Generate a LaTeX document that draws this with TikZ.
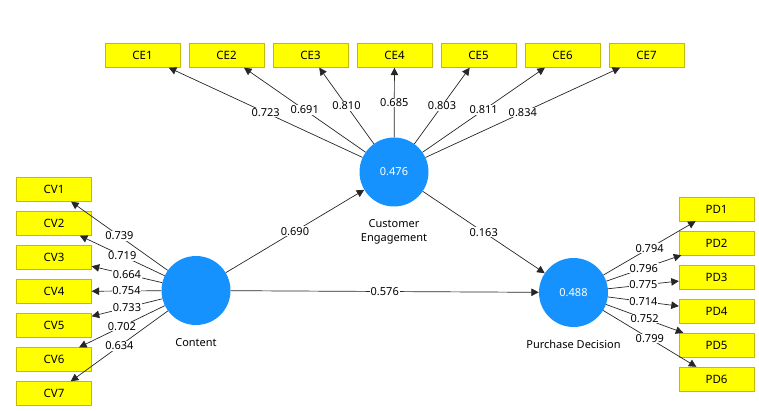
\documentclass[tikz,border=0pt]{standalone}
\usepackage{fontspec}
\setmainfont{Noto Sans}
\usetikzlibrary{arrows.meta}

\definecolor{lvblue}{RGB}{22,146,255}
\definecolor{indfill}{RGB}{255,255,0}
\definecolor{indedge}{RGB}{196,186,0}

\begin{document}
\begin{tikzpicture}[x=1pt,y=-1pt,
    ind/.style={draw=indedge,fill=indfill,minimum width=75pt,minimum height=24pt,inner sep=0pt,font=\fontsize{11.5}{13}\selectfont},
    lv/.style={circle,fill=lvblue,minimum size=69pt,inner sep=0pt,text=white,font=\fontsize{11}{13}\selectfont},
    lvname/.style={align=center,font=\fontsize{11}{14}\selectfont},
    load/.style={draw=black!85,line width=0.7pt,-{Triangle[length=7.5pt,width=7.5pt]}},
    coef/.style={fill=white,inner sep=0.8pt,font=\fontsize{11}{12}\selectfont}]
    \useasboundingbox (0,0) rectangle (759,411);
        % latent variables
        \node[lv] (cv) at (196,290.5) {};
        \node[lv] (ce) at (394,172) {0.476};
        \node[lv] (pd) at (573.5,292.5) {0.488};
        \node[lvname] (cvname) at (196,343) {Content};
        \node[lvname] (cename) at (394,232) {Customer\\Engagement};
        \node[lvname] (pdname) at (573.5,344) {Purchase Decision};
        % indicators of Customer Engagement
        \node[ind] (ce1) at (142.5,55.5) {CE1};
        \node[ind] (ce2) at (226.5,55.5) {CE2};
        \node[ind] (ce3) at (310.5,55.5) {CE3};
        \node[ind] (ce4) at (394.5,55.5) {CE4};
        \node[ind] (ce5) at (478.5,55.5) {CE5};
        \node[ind] (ce6) at (562.5,55.5) {CE6};
        \node[ind] (ce7) at (646.5,55.5) {CE7};
        % indicators of Content
        \node[ind] (cv1) at (54,189.5) {CV1};
        \node[ind] (cv2) at (54,223.5) {CV2};
        \node[ind] (cv3) at (54,257.5) {CV3};
        \node[ind] (cv4) at (54,291.5) {CV4};
        \node[ind] (cv5) at (54,325.5) {CV5};
        \node[ind] (cv6) at (54,359.5) {CV6};
        \node[ind] (cv7) at (54,393.5) {CV7};
        % indicators of Purchase Decision
        \node[ind] (pd1) at (716.5,209) {PD1};
        \node[ind] (pd2) at (716.5,243) {PD2};
        \node[ind] (pd3) at (716.5,277) {PD3};
        \node[ind] (pd4) at (716.5,311) {PD4};
        \node[ind] (pd5) at (716.5,345) {PD5};
        \node[ind] (pd6) at (716.5,379) {PD6};
        % loadings
        \draw[load] (ce) -- node[coef] {0.723} (ce1);
        \draw[load] (ce) -- node[coef] {0.691} (ce2);
        \draw[load] (ce) -- node[coef] {0.810} (ce3);
        \draw[load] (ce) -- node[coef] {0.685} (ce4);
        \draw[load] (ce) -- node[coef] {0.803} (ce5);
        \draw[load] (ce) -- node[coef] {0.811} (ce6);
        \draw[load] (ce) -- node[coef] {0.834} (ce7);
        \draw[load] (cv) -- node[coef] {0.739} (cv1);
        \draw[load] (cv) -- node[coef] {0.719} (cv2);
        \draw[load] (cv) -- node[coef] {0.664} (cv3);
        \draw[load] (cv) -- node[coef] {0.754} (cv4);
        \draw[load] (cv) -- node[coef] {0.733} (cv5);
        \draw[load] (cv) -- node[coef] {0.702} (cv6);
        \draw[load] (cv) -- node[coef] {0.634} (cv7);
        \draw[load] (pd) -- node[coef] {0.794} (pd1);
        \draw[load] (pd) -- node[coef] {0.796} (pd2);
        \draw[load] (pd) -- node[coef] {0.775} (pd3);
        \draw[load] (pd) -- node[coef] {0.714} (pd4);
        \draw[load] (pd) -- node[coef] {0.752} (pd5);
        \draw[load] (pd) -- node[coef] {0.799} (pd6);
        % path coefficients
        \draw[load] (cv) -- node[coef] {0.690} (ce);
        \draw[load] (cv) -- node[coef] {0.576} (pd);
        \draw[load] (ce) -- node[coef] {0.163} (pd);
    \end{tikzpicture}
\end{document}
